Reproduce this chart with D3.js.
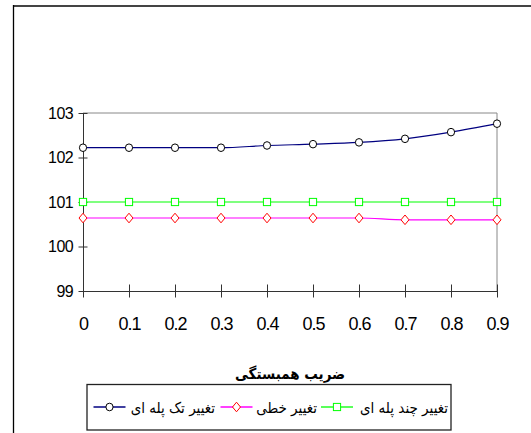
<!DOCTYPE html>
<html>
<head>
<meta charset="utf-8">
<script src="https://cdn.jsdelivr.net/npm/d3@7"></script>
<style>
  html, body { margin: 0; padding: 0; background: #fff; }
  svg { display: block; }
</style>
</head>
<body>
<div id="chart"></div>
<script>
const WIDTH = 531
const HEIGHT = 433

// data
const categories = ['0', '0.1', '0.2', '0.3', '0.4', '0.5', '0.6', '0.7', '0.8', '0.9']
const singleStep = [102.22, 102.22, 102.22, 102.22, 102.27, 102.3, 102.34, 102.42, 102.57, 102.76]
const linear = [100.64, 100.64, 100.64, 100.64, 100.64, 100.64, 100.64, 100.6, 100.6, 100.6]
const multiStep = [101, 101, 101, 101, 101, 101, 101, 101, 101, 101]
const yTicks = [99, 100, 101, 102, 103]
const seriesNames = ['تغییر تک پله ای', 'تغییر خطی', 'تغییر چند پله ای']
const axisTitle = 'ضریب همبستگی'

const SERIES = [
  { name: seriesNames[0], values: singleStep, line: '#000080', marker: 'circle', mark: '#000' },
  { name: seriesNames[1], values: linear, line: '#ff00ff', marker: 'diamond', mark: '#ff0000' },
  { name: seriesNames[2], values: multiStep, line: '#00ff00', marker: 'square', mark: '#00ff00' }
]

const FA_FONT = '"DejaVu Sans Condensed", "DejaVu Sans", sans-serif'

const plot = { left: 83, right: 497, top: 113, bottom: 291 }

const svg = d3.select('#chart').append('svg')
  .attr('xmlns', 'http://www.w3.org/2000/svg')
  .attr('width', WIDTH)
  .attr('height', HEIGHT)

svg.append('rect').attr('width', WIDTH).attr('height', HEIGHT).attr('fill', '#fff')

// outer chart frame (cut off at right and bottom)
svg.append('line').attr('x1', 13).attr('x2', WIDTH).attr('y1', 6).attr('y2', 6)
  .attr('stroke', '#444').attr('stroke-width', 2)
svg.append('line').attr('x1', 13.5).attr('x2', 13.5).attr('y1', 5).attr('y2', HEIGHT)
  .attr('stroke', '#000').attr('stroke-width', 1.3)

const x = d3.scalePoint(categories, [plot.left, plot.right])
const y = d3.scaleLinear([99, 103], [plot.bottom, plot.top])

// plot area border, gray
svg.append('path')
  .attr('d', `M${plot.left},${plot.top}H${plot.right}V${plot.bottom}`)
  .attr('fill', 'none').attr('stroke', '#888').attr('stroke-width', 1)

const yAxis = svg.append('g')
  .attr('transform', `translate(${plot.left},0)`)
  .call(d3.axisLeft(y).tickValues(yTicks).tickFormat(d3.format('d')).tickSizeOuter(0))
yAxis.select('.domain').attr('stroke', '#333')
yAxis.selectAll('.tick line').attr('x1', 4.5).attr('x2', -4.5).attr('stroke', '#333')
yAxis.selectAll('.tick text')
  .attr('x', -10)
  .attr('fill', '#000')
  .style('font-family', '"Liberation Sans", Arial, sans-serif')
  .style('font-size', '16px')
  .style('letter-spacing', '-0.6px')

const xAxis = svg.append('g')
  .attr('transform', `translate(0,${plot.bottom})`)
  .call(d3.axisBottom(x).tickSizeOuter(0))
xAxis.select('.domain').attr('stroke', '#333')
xAxis.selectAll('.tick line').attr('y1', -6.5).attr('y2', 6.5).attr('stroke', '#333')
xAxis.selectAll('.tick text')
  .attr('y', 39).attr('dy', 0)
  .attr('fill', '#000')
  .style('font-family', '"Liberation Sans", Arial, sans-serif')
  .style('font-size', '18px')
  .style('letter-spacing', '-1px')

const lineGen = d3.line()
  .x((d, i) => x(categories[i]))
  .y(d => y(d))
  .curve(d3.curveMonotoneX)

const drawMarker = (g, type, color) => {
  if (type === 'circle') {
    g.append('ellipse').attr('rx', 3.6).attr('ry', 3.8)
      .attr('fill', '#fff').attr('stroke', color).attr('stroke-width', 1)
  } else if (type === 'diamond') {
    g.append('path').attr('d', 'M0,-4.8L4,0L0,4.8L-4,0Z')
      .attr('fill', '#fff').attr('stroke', color).attr('stroke-width', 1)
  } else {
    g.append('rect').attr('x', -3.6).attr('y', -3.6).attr('width', 7.2).attr('height', 7.2)
      .attr('fill', '#fff').attr('stroke', color).attr('stroke-width', 1)
  }
}

// draw bottom series first so the top one sits above
SERIES.slice().reverse().forEach(s => {
  svg.append('path')
    .attr('d', lineGen(s.values))
    .attr('fill', 'none')
    .attr('stroke', s.line)
    .attr('stroke-width', 1.2)

  svg.append('g').selectAll('g')
    .data(s.values)
    .join('g')
    .attr('transform', (d, i) => `translate(${x(categories[i])},${y(d)})`)
    .each(function () { drawMarker(d3.select(this), s.marker, s.mark) })
})

// axis title
svg.append('text')
  .attr('x', (plot.left + plot.right) / 2)
  .attr('y', 379)
  .attr('text-anchor', 'middle')
  .style('font-family', FA_FONT)
  .style('font-weight', 'bold')
  .style('font-size', '15px')
  .text(axisTitle)

// legend
const legend = svg.append('g')
legend.append('rect')
  .attr('x', 87).attr('y', 384.5).attr('width', 364).attr('height', 45.5)
  .attr('fill', '#fff').attr('stroke', '#222').attr('stroke-width', 1.3)

// sample centre and right edge of each label
const legendPos = [
  { sample: 109.5, textRight: 215 },
  { sample: 236.5, textRight: 317 },
  { sample: 337, textRight: 448 }
]

SERIES.forEach((s, i) => {
  const p = legendPos[i]
  const item = legend.append('g')
  item.append('line')
    .attr('x1', p.sample - 16).attr('x2', p.sample + 16)
    .attr('y1', 407).attr('y2', 407)
    .attr('stroke', s.line).attr('stroke-width', 1.3)
  const m = item.append('g').attr('transform', `translate(${p.sample},407)`)
  drawMarker(m, s.marker, s.mark)
  item.append('text')
    .attr('x', p.textRight).attr('y', 413)
    .attr('text-anchor', 'end')
    .style('font-family', FA_FONT)
    .style('font-size', '15px')
    .text(s.name)
})
</script>
</body>
</html>
